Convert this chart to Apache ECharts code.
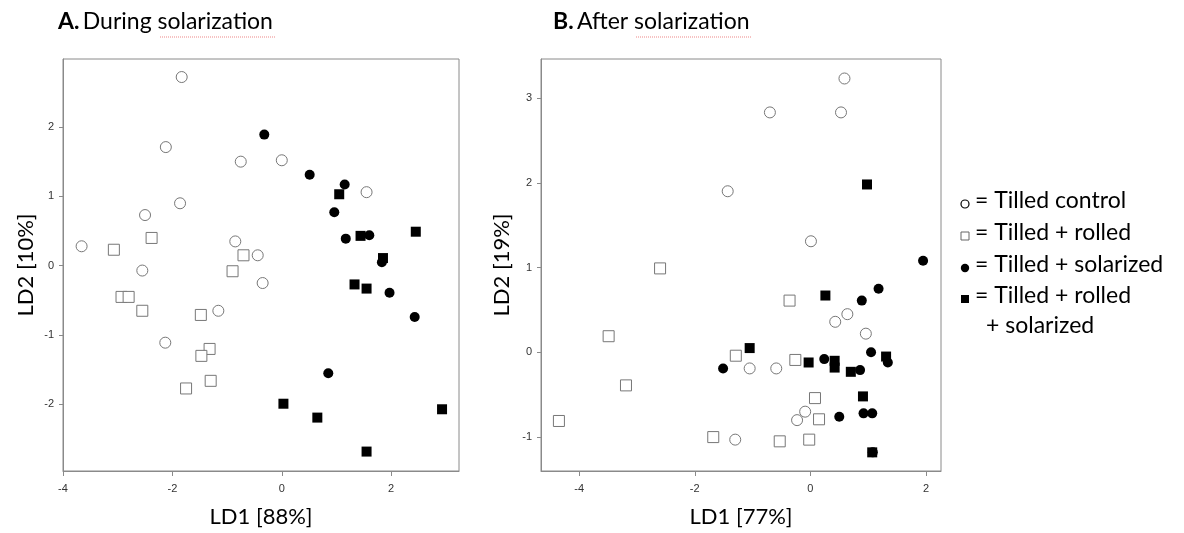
<!DOCTYPE html>
<html><head><meta charset="utf-8">
<script src="https://cdn.jsdelivr.net/npm/echarts@6/dist/echarts.min.js"></script>
<style>html,body{margin:0;padding:0;background:#fff}#c{width:1184px;height:533px}</style>
</head><body><div id="c"></div>
<script>
// ---- Panel A: During solarization ----
const aControl = [[-1.83,2.72],[-2.12,1.71],[-0.75,1.50],[-1.86,0.90],[-2.50,0.73],[-3.66,0.28],[-0.85,0.35],[-0.44,0.15],[0.00,1.52],[1.55,1.06],[-2.55,-0.07],[-0.35,-0.25],[-1.16,-0.65],[-2.13,-1.11]];
const aRolled = [[-3.07,0.23],[-2.38,0.40],[-0.70,0.15],[-0.90,-0.08],[-2.93,-0.45],[-2.80,-0.45],[-2.55,-0.65],[-1.48,-0.71],[-1.32,-1.20],[-1.47,-1.30],[-1.30,-1.66],[-1.75,-1.77]];
const aSolar = [[-0.32,1.89],[0.51,1.31],[1.15,1.17],[0.96,0.77],[1.17,0.39],[1.60,0.44],[1.83,0.05],[1.97,-0.39],[2.43,-0.74],[0.85,-1.55]];
const aRolledSolar = [[1.05,1.03],[1.44,0.43],[2.45,0.49],[1.85,0.11],[1.33,-0.27],[1.55,-0.33],[0.03,-1.99],[0.65,-2.19],[2.93,-2.07],[1.55,-2.68]];
// ---- Panel B: After solarization ----
const bControl = [[0.59,3.23],[-0.70,2.83],[0.53,2.83],[-1.43,1.90],[0.01,1.31],[0.64,0.45],[0.43,0.36],[0.96,0.22],[-1.05,-0.19],[-0.59,-0.19],[-0.09,-0.70],[-0.23,-0.80],[-1.30,-1.03]];
const bRolled = [[-2.60,0.99],[-3.49,0.19],[-3.19,-0.39],[-4.35,-0.81],[-1.68,-1.00],[-1.29,-0.04],[-0.36,0.61],[-0.26,-0.09],[0.08,-0.54],[0.15,-0.79],[-0.53,-1.05],[-0.02,-1.03]];
const bSolar = [[1.95,1.08],[-1.51,-0.19],[1.18,0.75],[0.89,0.61],[1.05,0.00],[0.24,-0.08],[0.86,-0.21],[1.34,-0.12],[0.50,-0.76],[0.92,-0.72],[1.07,-0.72],[1.08,-1.18]];
const bRolledSolar = [[0.98,1.98],[0.26,0.67],[-1.05,0.05],[-0.03,-0.12],[0.42,-0.10],[0.42,-0.18],[0.70,-0.23],[1.31,-0.05],[0.91,-0.52],[1.07,-1.18]];

const xTicksA = [-4,-2,0,2];
const yTicksA = [-2,-1,0,1,2];
const xTicksB = [-4,-2,0,2];
const yTicksB = [-1,0,1,2,3];

const titleA = ['A.', 'During solarization'];
const titleB = ['B.', 'After solarization'];
const xNameA = 'LD1 [88%]', yNameA = 'LD2 [10%]';
const xNameB = 'LD1 [77%]', yNameB = 'LD2 [19%]';
const legendNames = ['= Tilled control','= Tilled + rolled','= Tilled + solarized','= Tilled + rolled','+ solarized'];

const GRAY = '#8a8a8a';
const tickFont = {fontFamily:'Liberation Sans', fontSize:11, color:'#333'};
const nameFont = {fontFamily:'Lato', fontSize:22, color:'#000'};

function xAxis(idx, min, max, ticks, name){
  return {gridIndex:idx, type:'value', min:min, max:max, interval:2,
    name:name, nameLocation:'middle', nameGap:35, nameTextStyle:nameFont,
    axisLine:{show:true, onZero:false, lineStyle:{color:GRAY}},
    axisTick:{show:true, customValues:ticks, length:5, lineStyle:{color:GRAY}},
    axisLabel:Object.assign({customValues:ticks, margin:12}, tickFont),
    splitLine:{show:false}};
}
function yAxis(idx, min, max, ticks, name, gap){
  return {gridIndex:idx, type:'value', min:min, max:max, interval:1,
    name:name, nameLocation:'middle', nameGap:gap, nameTextStyle:nameFont,
    axisLine:{show:true, onZero:false, lineStyle:{color:GRAY}},
    axisTick:{show:true, customValues:ticks, length:4, lineStyle:{color:GRAY}},
    axisLabel:Object.assign({customValues:ticks, margin:9}, tickFont),
    splitLine:{show:false}};
}
function openSeries(data, sym, xi){
  return {type:'scatter', xAxisIndex:xi, yAxisIndex:xi, data:data, symbol:sym, symbolSize:11,
    itemStyle:{color:'#fff', borderColor:'#777', borderWidth:1, opacity:1}, z:2};
}
function fillSeries(data, sym, xi, size){
  return {type:'scatter', xAxisIndex:xi, yAxisIndex:xi, data:data, symbol:sym, symbolSize:size,
    itemStyle:{color:'#000', borderColor:'#000', borderWidth:0, opacity:1}, z:3};
}

const chart = echarts.init(document.getElementById('c'), null, {renderer:'canvas'});
const legendFont = 'Lato';
const legendY = [203, 235, 267, 298, 328];
chart.setOption({
  animation:false,
  backgroundColor:'#fff',
  grid:[
    {left:63, top:59, width:396, height:414, show:true, borderColor:GRAY, borderWidth:1, backgroundColor:'#fff'},
    {left:541, top:59, width:400, height:414, show:true, borderColor:GRAY, borderWidth:1, backgroundColor:'#fff'}
  ],
  xAxis:[xAxis(0,-4,3.24,xTicksA,xNameA), xAxis(1,-4.66,2.26,xTicksB,xNameB)],
  yAxis:[yAxis(0,-2.96,2.98,yTicksA,yNameA,26), yAxis(1,-1.4,3.46,yTicksB,yNameB,28)],
  series:[
    openSeries(aControl,'circle',0),
    openSeries(aRolled,'rect',0),
    fillSeries(aSolar,'circle',0,10),
    fillSeries(aRolledSolar,'rect',0,10),
    openSeries(bControl,'circle',1),
    openSeries(bRolled,'rect',1),
    fillSeries(bSolar,'circle',1,10),
    fillSeries(bRolledSolar,'rect',1,10)
  ],
  graphic:[
    {type:'text', left:58, top:10, style:{text:'{b|'+titleA[0]+'} {r|'+titleA[1]+'}', rich:{
      b:{fontFamily:'Lato', fontWeight:'bold', fontSize:23, fill:'#000'},
      r:{fontFamily:'Lato', fontSize:23, fill:'#000'}}}},
    {type:'text', left:553, top:10, style:{text:'{b|'+titleB[0]+'} {r|'+titleB[1]+'}', rich:{
      b:{fontFamily:'Lato', fontWeight:'bold', fontSize:23, fill:'#000'},
      r:{fontFamily:'Lato', fontSize:23, fill:'#000'}}}},
    // spell-check squiggles under "solarization"
    {type:'line', shape:{x1:160,y1:37,x2:275,y2:37}, style:{stroke:'#e88',lineWidth:1,lineDash:[1,1]}},
    {type:'line', shape:{x1:636,y1:37,x2:752,y2:37}, style:{stroke:'#e88',lineWidth:1,lineDash:[1,1]}},
    // legend symbols
    {type:'circle', shape:{cx:965,cy:legendY[0]+1,r:4}, style:{fill:'#fff',stroke:'#000',lineWidth:1.2}},
    {type:'rect', shape:{x:961,y:legendY[1]-3,width:8,height:8}, style:{fill:'#fff',stroke:'#666',lineWidth:1}},
    {type:'circle', shape:{cx:965,cy:legendY[2]+1,r:4.2}, style:{fill:'#000'}},
    {type:'rect', shape:{x:961,y:legendY[3]-3,width:8,height:8}, style:{fill:'#000'}},
    {type:'text', left:975, top:legendY[0]-14, style:{text:legendNames[0], fontFamily:legendFont, fontSize:23, fill:'#000'}},
    {type:'text', left:975, top:legendY[1]-14, style:{text:legendNames[1], fontFamily:legendFont, fontSize:23, fill:'#000'}},
    {type:'text', left:975, top:legendY[2]-14, style:{text:legendNames[2], fontFamily:legendFont, fontSize:23, fill:'#000'}},
    {type:'text', left:975, top:legendY[3]-14, style:{text:legendNames[3], fontFamily:legendFont, fontSize:23, fill:'#000'}},
    {type:'text', left:986, top:legendY[4]-14, style:{text:legendNames[4], fontFamily:legendFont, fontSize:23, fill:'#000'}}
  ]
});
</script></body></html>
